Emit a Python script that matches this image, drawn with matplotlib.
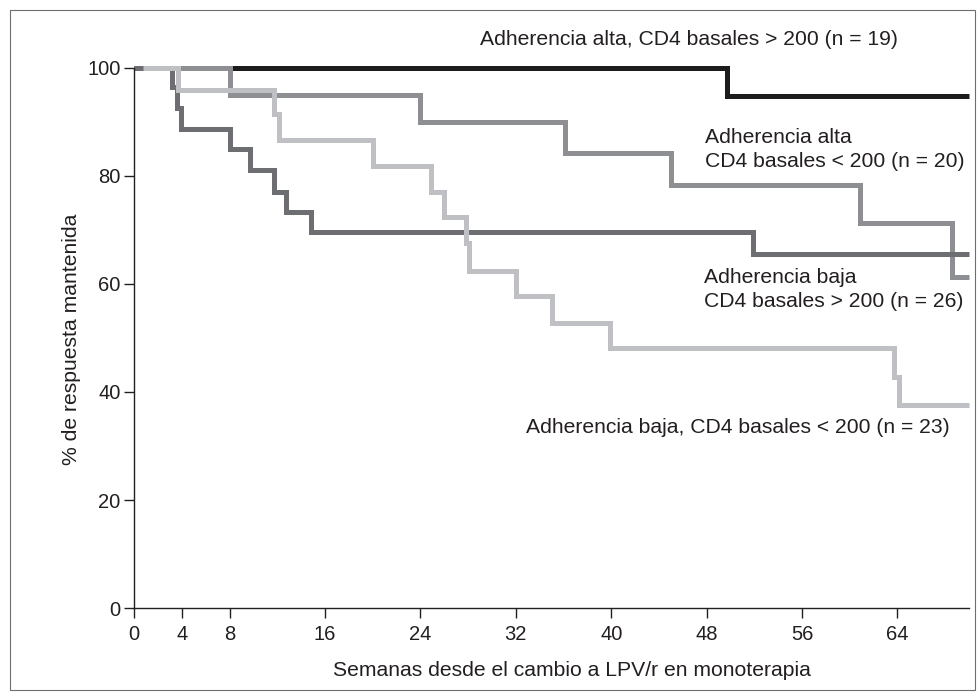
import matplotlib
matplotlib.use("Agg")
import matplotlib.pyplot as plt
from matplotlib.patches import Rectangle

plt.rcParams['font.family'] = ['Liberation Sans', 'DejaVu Sans']

# Kaplan-Meier style curves (weeks, % sustained response)
alta_mas200_t = [0, 49.7, 70]
alta_mas200_v = [100, 94.7, 94.7]

alta_menos200_t = [0, 8.0, 24.0, 36.1, 45.0, 60.9, 68.6, 70]
alta_menos200_v = [100, 95.0, 89.9, 84.1, 78.3, 71.3, 61.2, 61.2]

baja_mas200_t = [0, 3.2, 3.56, 3.9, 8.0, 9.7, 11.7, 12.7, 14.8, 51.9, 70]
baja_mas200_v = [100, 96.4, 92.5, 88.6, 84.9, 81.0, 77.0, 73.2, 69.5, 65.6, 65.6]

baja_menos200_t = [0.75, 3.7, 11.75, 12.1, 20.0, 24.9, 26.0, 27.8, 28.1, 32.0,
                   35.0, 39.9, 63.7, 64.1, 70]
baja_menos200_v = [100, 95.8, 91.4, 86.6, 81.8, 76.9, 72.3, 67.5, 62.4, 57.7,
                   52.8, 48.1, 42.8, 37.6, 37.6]

xticks = [0, 4, 8, 16, 24, 32, 40, 48, 56, 64]
yticks = [0, 20, 40, 60, 80, 100]

txt = '#231f20'
W, H = 979, 696
fig = plt.figure(figsize=(W / 100, H / 100), dpi=100)
ax = fig.add_axes([134.3 / W, 1 - 608.3 / H, (969 - 134.3) / W, (608.3 - 67.5) / H])

curves = [
    (alta_mas200_t, alta_mas200_v, '#1c1c1c'),
    (alta_menos200_t, alta_menos200_v, '#8e8f93'),
    (baja_mas200_t, baja_mas200_v, '#6d6e71'),
    (baja_menos200_t, baja_menos200_v, '#bfc0c3'),
]
for t, v, c in curves:
    ax.step(t, v, where='post', color=c, lw=3.6, clip_on=False,
            solid_joinstyle='miter', solid_capstyle='butt')

ax.set_xlim(0, 70)
ax.set_ylim(0, 100)
ax.set_xticks(xticks)
ax.set_yticks(yticks)
for s in ['top', 'right']:
    ax.spines[s].set_visible(False)
for s in ['left', 'bottom']:
    ax.spines[s].set_color(txt)
    ax.spines[s].set_linewidth(1.0)
ax.tick_params(direction='out', length=7, width=1.0, color=txt,
               labelsize=14.5, labelcolor=txt)
ax.tick_params(axis='x', pad=5)
ax.tick_params(axis='y', pad=3)

fs = 15.2
ax.text(29.0, 105.1, 'Adherencia alta, CD4 basales > 200 (n = 19)', fontsize=fs,
        color=txt, va='center', ha='left')
ax.text(47.9, 84.8, 'Adherencia alta\nCD4 basales < 200 (n = 20)', fontsize=fs,
        color=txt, va='center', ha='left', linespacing=1.35)
ax.text(47.8, 58.9, 'Adherencia baja\nCD4 basales > 200 (n = 26)', fontsize=fs,
        color=txt, va='center', ha='left', linespacing=1.35)
ax.text(68.4, 33.5, 'Adherencia baja, CD4 basales < 200 (n = 23)', fontsize=fs,
        color=txt, va='center', ha='right')

fig.text(72 / W, 1 - 339 / H, '% de respuesta mantenida', rotation=90,
         fontsize=fs, color=txt, ha='center', va='center')
fig.text(571.5 / W, 1 - 671 / H, 'Semanas desde el cambio a LPV/r en monoterapia',
         fontsize=fs, color=txt, ha='center', va='center')

fig.patches.append(Rectangle((10 / W, 6 / H), 965 / W, 680 / H, transform=fig.transFigure,
                             fill=False, edgecolor='#6d6e71', lw=0.8))

fig.savefig('out.png', dpi=100)
